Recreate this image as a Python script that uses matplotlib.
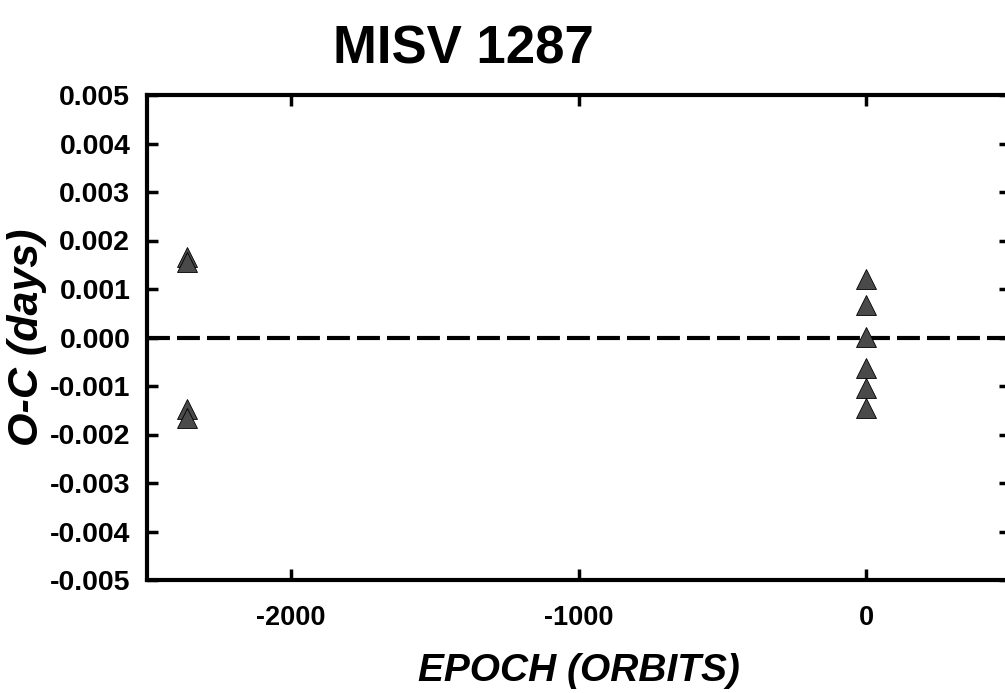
import matplotlib
matplotlib.use("Agg")
import matplotlib.pyplot as plt

# Data
epoch = [-2361, -2361, -2361, -2361, 0, 0, 0, 0, 0, 0]
o_c = [0.00167, 0.00155, -0.00148, -0.00165,
       0.00120, 0.00068, 0.00002, -0.00062, -0.00105, -0.00146]

title = "MISV 1287"
xlabel = "EPOCH (ORBITS)"
ylabel = "O-C (days)"
xticks = [-2000, -1000, 0]
yticks = [-0.005, -0.004, -0.003, -0.002, -0.001, 0.0, 0.001, 0.002, 0.003, 0.004, 0.005]

plt.rcParams['font.family'] = ['Liberation Sans', 'DejaVu Sans']

fig = plt.figure(figsize=(10.05, 6.93), dpi=100)
ax = fig.add_axes([147/1005, (693-580)/693, (1010-147)/1005, 485/693])

ax.axhline(0, color='black', lw=3, dashes=(5.5, 1.7), zorder=1)
ax.plot(epoch, o_c, linestyle='none', marker='^', ms=15, mfc='#4a4a4a',
        mec='black', mew=0.6, zorder=3)

ax.set_xlim(-2500, 500)
ax.set_ylim(-0.005, 0.005)
ax.set_xticks(xticks)
ax.set_yticks(yticks)
ax.set_xticklabels([f"{t:d}" for t in xticks], fontsize=19.5, fontweight='bold')
ax.set_yticklabels([f"{t:.3f}" for t in yticks], fontsize=20.5, fontweight='bold')

for s in ax.spines.values():
    s.set_linewidth(3)
ax.tick_params(direction='in', length=8, width=2.5, top=True, right=True)
ax.tick_params(axis='x', pad=18)
ax.tick_params(axis='y', pad=12)

ax.set_xlabel(xlabel, fontsize=28, fontweight='bold', style='italic', labelpad=16)
ax.set_ylabel(ylabel, fontsize=31, fontweight='bold', style='italic', labelpad=2)
fig.text(0.461, 0.965, title, fontsize=38, fontweight='bold', ha='center', va='top')

fig.savefig("out.png", dpi=100)
